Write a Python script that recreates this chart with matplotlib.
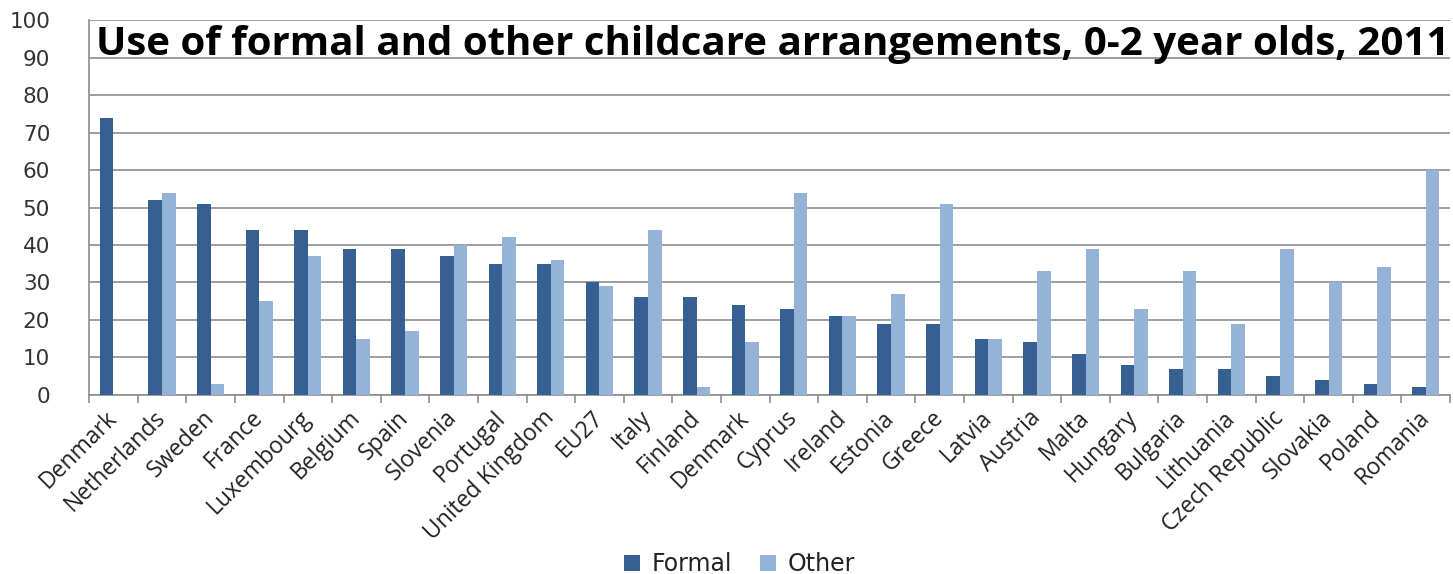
import matplotlib
matplotlib.use("Agg")
import matplotlib.pyplot as plt
import numpy as np

countries = ["Denmark", "Netherlands", "Sweden", "France", "Luxembourg", "Belgium",
             "Spain", "Slovenia", "Portugal", "United Kingdom", "EU27", "Italy",
             "Finland", "Denmark", "Cyprus", "Ireland", "Estonia", "Greece", "Latvia",
             "Austria", "Malta", "Hungary", "Bulgaria", "Lithuania", "Czech Republic",
             "Slovakia", "Poland", "Romania"]
formal = [74, 52, 51, 44, 44, 39, 39, 37, 35, 35, 30, 26, 26, 24, 23, 21, 19, 19,
          15, 14, 11, 8, 7, 7, 5, 4, 3, 2]
other = [0, 54, 3, 25, 37, 15, 17, 40, 42, 36, 29, 44, 2, 14, 54, 21, 27, 51,
         15, 33, 39, 23, 33, 19, 39, 30, 34, 60]

FORMAL_COLOR = "#376092"
OTHER_COLOR = "#95b3d7"
GRID = "#8c8c8c"

fig = plt.figure(figsize=(14.53, 5.74), dpi=100)
ax = fig.add_axes([0.0613, 0.312, 0.9367, 0.653])

x = np.arange(len(countries))
w = 0.28
ax.bar(x - w / 2, formal, w, color=FORMAL_COLOR, label="Formal", zorder=3)
ax.bar(x + w / 2, other, w, color=OTHER_COLOR, label="Other", zorder=3)

ax.set_xlim(-0.5, len(countries) - 0.5)
ax.set_ylim(0, 100)
ax.set_yticks(range(0, 101, 10))
ax.yaxis.grid(True, color=GRID, linewidth=1.2, zorder=0)
ax.tick_params(axis="y", length=0, labelsize=15.5, labelcolor="#333333", pad=28)

# category ticks sit between the groups, labels in the middle
ax.set_xticks(np.arange(len(countries) + 1) - 0.5)
ax.set_xticklabels([])
ax.set_xticks(x, minor=True)
ax.set_xticklabels(countries, minor=True, rotation=45, ha="right", va="center",
                   rotation_mode="anchor", fontsize=16.5, family="Open Sans",
                   color="#222222")
ax.tick_params(axis="x", which="major", length=6, color=GRID, width=1.2)
ax.tick_params(axis="x", which="minor", length=0, pad=14)

for side in ["top", "right"]:
    ax.spines[side].set_visible(False)
ax.spines["left"].set_color(GRID)
ax.spines["left"].set_linewidth(1.2)
ax.spines["bottom"].set_color(GRID)
ax.spines["bottom"].set_linewidth(1.2)

ax.text(0.502, 0.907, "Use of formal and other childcare arrangements, 0-2 year olds, 2011",
        transform=ax.transAxes, ha="center", va="baseline", fontsize=29,
        fontweight="bold", family="Open Sans", color="black", zorder=5)

fig.legend(loc="center", bbox_to_anchor=(0.509, 0.017), ncol=2, frameon=False,
           fontsize=17, handlelength=0.7, handleheight=0.7, columnspacing=1.15,
           handletextpad=0.5, labelcolor="#222222")

fig.savefig("out.png", dpi=100)
